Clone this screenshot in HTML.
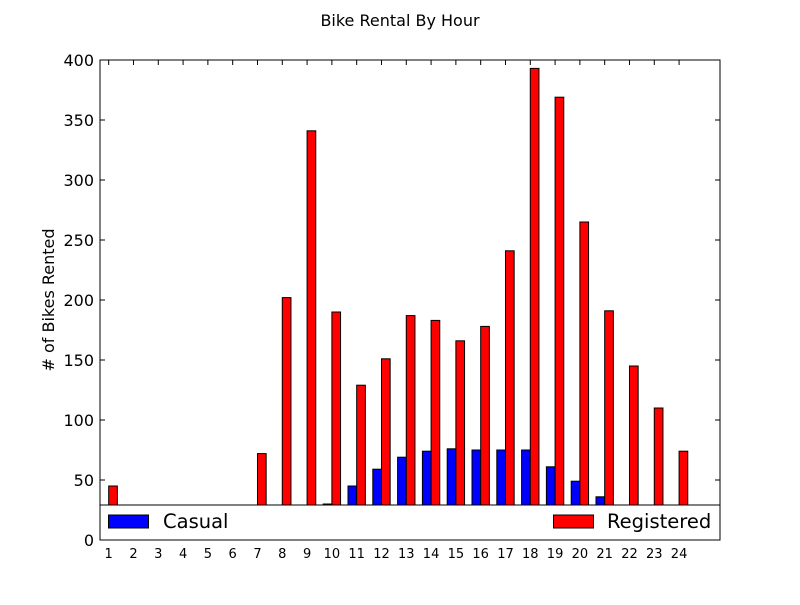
<!DOCTYPE html>
<html><head><meta charset="utf-8"><style>
body{margin:0;background:#fff;}
svg text{font-family:"DejaVu Sans","Liberation Sans",sans-serif;}
</style></head><body>
<svg id="chart" width="800" height="600" xmlns="http://www.w3.org/2000/svg">
<rect width="800" height="600" fill="#fff"/>
<text x="400" y="26" text-anchor="middle" font-size="16">Bike Rental By Hour</text>
<text transform="translate(54,300) rotate(-90)" text-anchor="middle" font-size="16"># of Bikes Rented</text>
<g id="bars"></g>
<g id="axes"></g>
</svg>
<script>
const hours = ["1","2","3","4","5","6","7","8","9","10","11","12","13","14","15","16","17","18","19","20","21","22","23","24"];
const casual = [10,7,5,3,2,3,8,20,26,30,45,59,69,74,76,75,75,75,61,49,36,26,19,14];
const registered = [45,26,16,8,4,5,72,202,341,190,129,151,187,183,166,178,241,393,369,265,191,145,110,74];
const yTicks = [0,50,100,150,200,250,300,350,400];

const L=100,R=720,T=60,B=540, W=0.35;
const xs = v => L + v/25*(R-L);
const ys = v => B - v/400*(B-T);
const NS="http://www.w3.org/2000/svg";
const bars=document.getElementById('bars'), axes=document.getElementById('axes');
function mk(tag,attrs,parent){const e=document.createElementNS(NS,tag);for(const k in attrs)e.setAttribute(k,attrs[k]);parent.appendChild(e);return e;}

hours.forEach((h,i)=>{
  const c=mk('rect',{x:xs(i),y:ys(casual[i]),width:xs(i+W)-xs(i),height:B-ys(casual[i]),fill:'#0000ff',stroke:'#000','stroke-width':1},bars);
  
  
  const r=mk('rect',{x:xs(i+W),y:ys(registered[i]),width:xs(i+2*W)-xs(i+W),height:B-ys(registered[i]),fill:'#ff0000',stroke:'#000','stroke-width':1},bars);
  
  
});

yTicks.forEach(v=>{
  const y=ys(v);
  mk('line',{x1:L,x2:L+5,y1:y,y2:y,stroke:'#000'},axes);
  mk('line',{x1:R,x2:R-5,y1:y,y2:y,stroke:'#000'},axes);
  const t=mk('text',{x:L-6,y:y+6,'text-anchor':'end','font-size':16},axes);
  t.textContent=v;
  
  
});
hours.forEach((h,i)=>{
  const x=xs(i+W);
  mk('line',{x1:x,x2:x,y1:T,y2:T+5,stroke:'#000'},axes);
  const t=mk('text',{x:x,y:B+18,'text-anchor':'middle','font-size':13},axes);
  t.textContent=h;
  
  
});
const frame=mk('rect',{x:L,y:T,width:R-L,height:B-T,fill:'none',stroke:'#000','stroke-width':1},axes);



const lg=mk('g',{},axes);


mk('rect',{x:L,y:505,width:R-L,height:35,fill:'#fff',stroke:'#000','stroke-width':1},lg);
const p1=mk('rect',{x:108.5,y:515,width:40,height:13,fill:'#0000ff',stroke:'#000'},lg);


const t1=mk('text',{x:163,y:528,'font-size':19.5},lg); t1.textContent='Casual';
const p2=mk('rect',{x:553.5,y:515,width:40,height:13,fill:'#ff0000',stroke:'#000'},lg);


const t2=mk('text',{x:607,y:528,'font-size':19.5},lg); t2.textContent='Registered';
</script>
</body></html>
